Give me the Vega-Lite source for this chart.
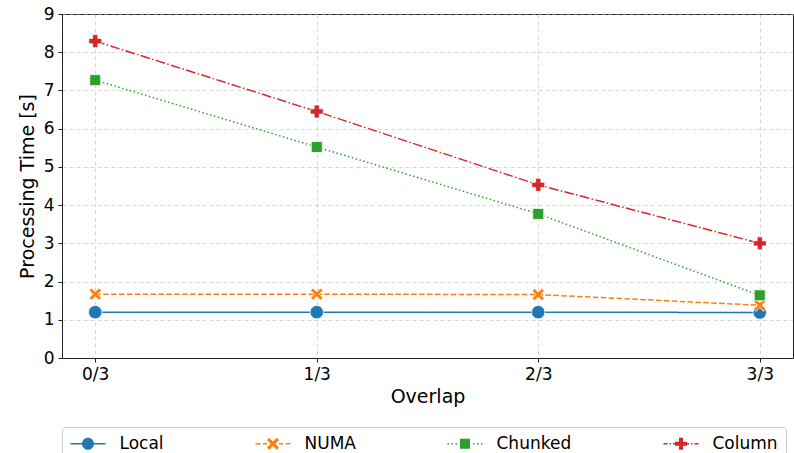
{
  "$schema": "https://vega.github.io/schema/vega-lite/v6.json",
  "width": 731,
  "height": 344,
  "autosize": {"type": "none"},
  "padding": {"left": 62, "top": 14, "right": 1, "bottom": 95},
  "config": {
    "font": "DejaVu Sans",
    "view": {"stroke": "#222", "strokeWidth": 1},
    "axis": {
      "domainColor": "#222",
      "tickColor": "#222",
      "labelColor": "#000",
      "titleColor": "#000",
      "labelFontSize": 17,
      "titleFontSize": 19,
      "titleFontWeight": "normal",
      "tickSize": 4,
      "labelPadding": 4,
      "gridColor": "#b0b0b0",
      "gridOpacity": 0.5,
      "gridDash": [4, 3]
    }
  },
  "data": {
    "values": [
      {"series": "Local", "overlap": "0/3", "time": 1.2},
      {"series": "Local", "overlap": "1/3", "time": 1.2},
      {"series": "Local", "overlap": "2/3", "time": 1.2},
      {"series": "Local", "overlap": "3/3", "time": 1.19},
      {"series": "NUMA", "overlap": "0/3", "time": 1.67},
      {"series": "NUMA", "overlap": "1/3", "time": 1.67},
      {"series": "NUMA", "overlap": "2/3", "time": 1.66},
      {"series": "NUMA", "overlap": "3/3", "time": 1.38},
      {"series": "Chunked", "overlap": "0/3", "time": 7.27},
      {"series": "Chunked", "overlap": "1/3", "time": 5.52},
      {"series": "Chunked", "overlap": "2/3", "time": 3.77},
      {"series": "Chunked", "overlap": "3/3", "time": 1.64},
      {"series": "Column", "overlap": "0/3", "time": 8.29},
      {"series": "Column", "overlap": "1/3", "time": 6.45},
      {"series": "Column", "overlap": "2/3", "time": 4.53},
      {"series": "Column", "overlap": "3/3", "time": 3.0}
    ]
  },
  "encoding": {
    "x": {
      "field": "overlap",
      "type": "ordinal",
      "sort": ["0/3", "1/3", "2/3", "3/3"],
      "scale": {"type": "point", "padding": 0.15},
      "axis": {"title": "Overlap", "labelAngle": 0, "grid": true, "titlePadding": 5}
    },
    "y": {
      "field": "time",
      "type": "quantitative",
      "scale": {"domain": [0, 9], "nice": false},
      "axis": {"title": "Processing Time [s]", "values": [0, 1, 2, 3, 4, 5, 6, 7, 8, 9], "titlePadding": 6}
    },
    "color": {
      "field": "series",
      "type": "nominal",
      "scale": {
        "domain": ["Local", "NUMA", "Chunked", "Column"],
        "range": ["#1f77b4", "#ff7f0e", "#2ca02c", "#d62728"]
      },
      "legend": {
        "title": null,
        "orient": "none",
        "legendX": 0,
        "legendY": 413,
        "direction": "horizontal",
        "columns": 4,
        "gridAlign": "each",
        "columnPadding": 91,
        "labelFontSize": 17,
        "labelColor": "#000",
        "symbolSize": 100,
        "symbolStrokeWidth": 0,
        "padding": 8,
        "strokeColor": "#cccccc",
        "fillColor": "white",
        "cornerRadius": 3,
        "symbolOffset": 9.5,
        "labelOffset": 23,
        "encode": {
          "symbols": {
            "update": {
              "shape": {"signal": "datum.value === 'Local' ? 'M-3.5,-0.15H-1.2V0.15H-3.5Z M1.2,-0.15H3.5V0.15H1.2Z M-1.2,0 A1.2,1.2 0 1,1 1.2,0 A1.2,1.2 0 1,1 -1.2,0 Z' : datum.value === 'NUMA' ? 'M-3.5,-0.15H-2.5V0.15H-3.5Z M-2.0,-0.15H-1.2V0.15H-2.0Z M1.2,-0.15H2.0V0.15H1.2Z M2.5,-0.15H3.5V0.15H2.5Z M-1.2,-0.75L-0.75,-1.2L0,-0.45L0.75,-1.2L1.2,-0.75L0.45,0L1.2,0.75L0.75,1.2L0,0.45L-0.75,1.2L-1.2,0.75L-0.45,0Z' : datum.value === 'Chunked' ? 'M-3.5,-0.15H-3.2V0.15H-3.5Z M-2.7,-0.15H-2.4V0.15H-2.7Z M-1.9,-0.15H-1.6V0.15H-1.9Z M1.6,-0.15H1.9V0.15H1.6Z M2.4,-0.15H2.7V0.15H2.4Z M3.2,-0.15H3.5V0.15H3.2Z M-1,-1H1V1H-1Z' : 'M-3.5,-0.15H-2.7V0.15H-3.5Z M-2.3,-0.15H-2.0V0.15H-2.3Z M-1.6,-0.15H-1.2V0.15H-1.6Z M1.2,-0.15H1.6V0.15H1.2Z M2.0,-0.15H2.3V0.15H2.0Z M2.7,-0.15H3.5V0.15H2.7Z M-0.4,-1.2H0.4V-0.4H1.2V0.4H0.4V1.2H-0.4V0.4H-1.2V-0.4H-0.4Z'"},
              "fill": {"scale": "color", "field": "value"},
              "fillOpacity": {"value": 1},
              "opacity": {"value": 1},
              "strokeWidth": {"value": 0}
            }
          }
        }
      }
    }
  },
  "layer": [
    {
      "mark": {"type": "line", "strokeWidth": 1.5},
      "encoding": {
        "strokeDash": {
          "field": "series",
          "type": "nominal",
          "scale": {
            "domain": ["Local", "NUMA", "Chunked", "Column"],
            "range": [[1, 0], [5.5, 2.4], [1.5, 2.5], [9.6, 2.4, 1.5, 2.4]]
          },
          "legend": null
        }
      }
    },
    {
      "transform": [{"filter": "datum.series === 'Local'"}],
      "mark": {"type": "point", "shape": "circle", "filled": true, "size": 180, "opacity": 1, "stroke": "white", "strokeWidth": 0.75}
    },
    {
      "transform": [{"filter": "datum.series === 'NUMA'"}],
      "mark": {"type": "point", "shape": "M-1,-0.6L-0.6,-1L0,-0.4L0.6,-1L1,-0.6L0.4,0L1,0.6L0.6,1L0,0.4L-0.6,1L-1,0.6L-0.4,0Z", "filled": true, "size": 150, "opacity": 1, "stroke": "white", "strokeWidth": 0.75}
    },
    {
      "transform": [{"filter": "datum.series === 'Chunked'"}],
      "mark": {"type": "point", "shape": "square", "filled": true, "size": 120, "opacity": 1, "stroke": "white", "strokeWidth": 0.75}
    },
    {
      "transform": [{"filter": "datum.series === 'Column'"}],
      "mark": {"type": "point", "shape": "M-0.4,-1H0.4V-0.4H1V0.4H0.4V1H-0.4V0.4H-1V-0.4H-0.4Z", "filled": true, "size": 170, "opacity": 1, "stroke": "white", "strokeWidth": 0.75}
    }
  ]
}
